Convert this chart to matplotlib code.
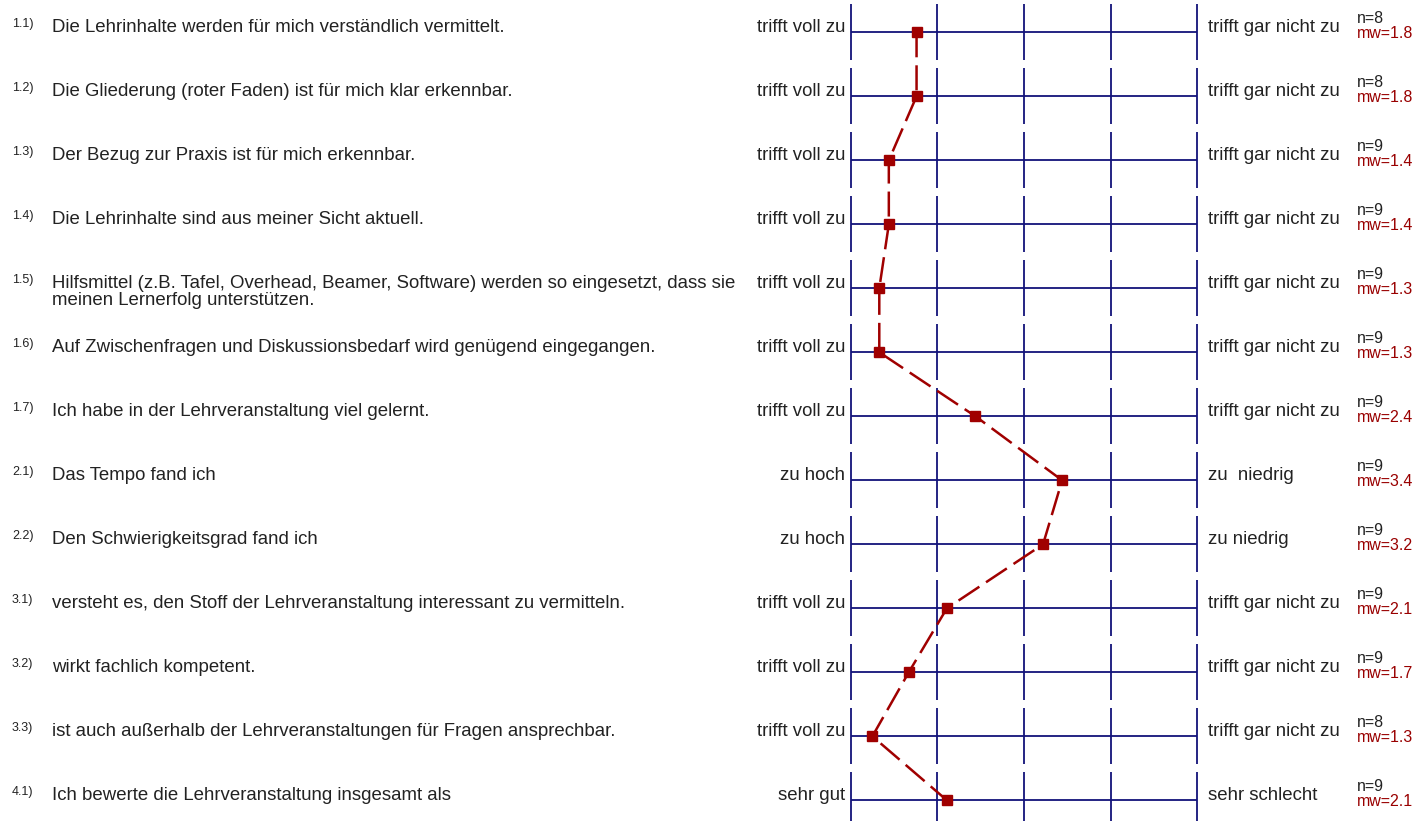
import matplotlib
matplotlib.use("Agg")
import matplotlib.pyplot as plt

plt.rcParams['font.family'] = ['Liberation Sans', 'DejaVu Sans']

# item numbers and question texts
numbers = ["1.1)", "1.2)", "1.3)", "1.4)", "1.5)", "1.6)", "1.7)",
           "2.1)", "2.2)", "3.1)", "3.2)", "3.3)", "4.1)"]
questions = [
    "Die Lehrinhalte werden für mich verständlich vermittelt.",
    "Die Gliederung (roter Faden) ist für mich klar erkennbar.",
    "Der Bezug zur Praxis ist für mich erkennbar.",
    "Die Lehrinhalte sind aus meiner Sicht aktuell.",
    "Hilfsmittel (z.B. Tafel, Overhead, Beamer, Software) werden so eingesetzt, dass sie\nmeinen Lernerfolg unterstützen.",
    "Auf Zwischenfragen und Diskussionsbedarf wird genügend eingegangen.",
    "Ich habe in der Lehrveranstaltung viel gelernt.",
    "Das Tempo fand ich",
    "Den Schwierigkeitsgrad fand ich",
    "versteht es, den Stoff der Lehrveranstaltung interessant zu vermitteln.",
    "wirkt fachlich kompetent.",
    "ist auch außerhalb der Lehrveranstaltungen für Fragen ansprechbar.",
    "Ich bewerte die Lehrveranstaltung insgesamt als",
]
left_labels = ["trifft voll zu"] * 7 + ["zu hoch", "zu hoch"] + ["trifft voll zu"] * 3 + ["sehr gut"]
right_labels = (["trifft gar nicht zu"] * 7 + ["zu  niedrig", "zu niedrig"]
                + ["trifft gar nicht zu"] * 3 + ["sehr schlecht"])
n_values = [8, 8, 9, 9, 9, 9, 9, 9, 9, 9, 9, 8, 9]
means = [1.76, 1.76, 1.44, 1.44, 1.33, 1.33, 2.44, 3.44, 3.22, 2.11, 1.67, 1.25, 2.11]
mw_labels = ["1.8", "1.8", "1.4", "1.4", "1.3", "1.3", "2.4", "3.4", "3.2", "2.1", "1.7", "1.3", "2.1"]
scale = [1, 2, 3, 4, 5]

W, H = 1418, 821
LEFT_PX, RIGHT_PX = 850.7, 1197.3
UNIT = (RIGHT_PX - LEFT_PX) / 4
ROW_PX = 64
TOP_PX = 32.3

blue = "#12127a"
red = "#a00000"
text_col = "#222222"

fig = plt.figure(figsize=(W / 100, H / 100), dpi=100)
ax = fig.add_axes([0, 0, 1, 1])
x0 = 1 - LEFT_PX / UNIT
ax.set_xlim(x0, 5 + (W - RIGHT_PX) / UNIT)
ax.set_ylim((H - TOP_PX) / ROW_PX, -TOP_PX / ROW_PX)
ax.axis("off")


def px(p):
    return x0 + p / UNIT


rows = list(range(len(questions)))
for i in rows:
    ax.hlines(i, scale[0], scale[-1], color=blue, lw=1.3, zorder=2)
    ax.vlines(scale, i - 28 / ROW_PX, i + 28 / ROW_PX, color=blue, lw=1.3, zorder=2)

    ax.text(px(12), i - 5 / ROW_PX, numbers[i], fontsize=9, color=text_col, va="baseline")
    for k, line in enumerate(questions[i].split("\n")):
        ax.text(px(52), i + k * 17 / ROW_PX, line, fontsize=13.4, color=text_col, va="baseline")
    ax.text(px(845), i, left_labels[i], fontsize=13.4, color=text_col, ha="right", va="baseline")
    ax.text(px(1208), i, right_labels[i], fontsize=13.4, color=text_col, ha="left", va="baseline")
    ax.text(px(1357), i - 9 / ROW_PX, f"n={n_values[i]}", fontsize=11.5, color=text_col, va="baseline")
    ax.text(px(1357), i + 6 / ROW_PX, f"mw={mw_labels[i]}", fontsize=11.5, color="#990000", va="baseline")

ax.plot(means, rows, color=red, lw=1.8, linestyle=(0, (10, 3.2)),
        marker="s", markersize=6.5, zorder=3)

fig.savefig("out.png", dpi=100)
